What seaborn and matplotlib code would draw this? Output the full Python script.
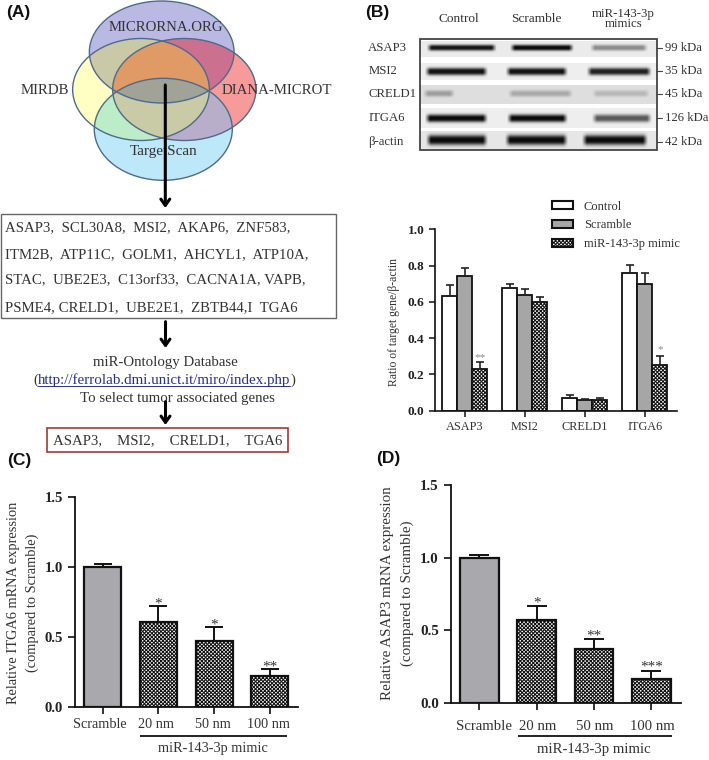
import numpy as np
import pandas as pd
import matplotlib
matplotlib.use("Agg")
import matplotlib.pyplot as plt
import seaborn as sns
from matplotlib.patches import Ellipse, Rectangle, Patch, FancyArrowPatch
from matplotlib.transforms import Affine2D, ScaledTranslation

# ---------- data ----------
GENES = ["ASAP3", "MSI2", "CRELD1", "ITGA6"]
GROUPS = ["Control", "Scramble", "miR-143-3p mimic"]
RATIO_CONTROL = [0.63, 0.675, 0.068, 0.76]
RATIO_SCRAMBLE = [0.745, 0.64, 0.057, 0.70]
RATIO_MIMIC = [0.232, 0.597, 0.057, 0.25]
ERR_CONTROL = [0.064, 0.025, 0.018, 0.045]
ERR_SCRAMBLE = [0.044, 0.03, 0.009, 0.06]
ERR_MIMIC = [0.038, 0.03, 0.015, 0.05]

DOSES = ["Scramble", "20 nm", "50 nm", "100 nm"]
ITGA6_EXPR = [1.0, 0.612, 0.474, 0.221]
ITGA6_ERR = [0.026, 0.109, 0.10, 0.053]
ITGA6_STARS = ["", "*", "*", "**"]
ASAP3_EXPR = [1.0, 0.571, 0.369, 0.165]
ASAP3_ERR = [0.02, 0.096, 0.071, 0.055]
ASAP3_STARS = ["", "*", "**", "***"]

BLOT_ROWS = ["ASAP3", "MSI2", "CRELD1", "ITGA6", "β-actin"]
BLOT_KDA = ["99 kDa", "35 kDa", "45 kDa", "126 kDa", "42 kDa"]
BLOT_LANES = ["Control", "Scramble", "miR-143-3p\nmimics"]
BLOT_ASAP3 = [0.95, 1.0, 0.42]
BLOT_MSI2 = [0.97, 0.97, 0.9]
BLOT_CRELD1 = [0.3, 0.25, 0.18]
BLOT_ITGA6 = [1.0, 1.0, 0.65]
BLOT_ACTIN = [1.0, 1.0, 1.0]

GENE_LINES = ["ASAP3,  SCL30A8,  MSI2,  AKAP6,  ZNF583,",
              "ITM2B,  ATP11C,  GOLM1,  AHCYL1,  ATP10A,",
              "STAC,  UBE2E3,  C13orf33,  CACNA1A, VAPB,",
              "PSME4, CRELD1,  UBE2E1,  ZBTB44,I  TGA6"]
SELECTED = "ASAP3,    MSI2,    CRELD1,    TGA6"
DATABASES = ["MICRORNA.ORG", "MIRDB", "DIANA-MICROT", "TargetScan"]

# ---------- style ----------
W, H = 709, 760
CHECK = "x" * 9
sns.set_theme(style="ticks")
plt.rcParams.update({"font.family": ["Liberation Serif", "DejaVu Serif"],
                     "hatch.linewidth": 0.75, "axes.edgecolor": "#111111",
                     "xtick.color": "#222222", "ytick.color": "#222222"})
TXT = "#333333"
fig = plt.figure(figsize=(W / 100, H / 100), dpi=100)
px = Affine2D().scale(1 / W, -1 / H).translate(0, 1) + fig.transFigure

ov = fig.add_axes([0, 0, 1, 1], zorder=0)
ov.set_axis_off()


def t(x, y, s, size=10, color=TXT, ha="center", **kw):
    ov.text(x, y, s, fontsize=size, color=color, ha=ha, va="center", **kw)


def arrow(x, y0, y1, lw=2.2):
    ov.add_patch(FancyArrowPatch((x, y0), (x, y1), arrowstyle="->,head_length=4.5,head_width=3.2",
                                 mutation_scale=1, lw=lw, color="black", shrinkA=0, shrinkB=0, zorder=6))


def panel_axes(x0, x1, ytop, ybot):
    ax = fig.add_axes([x0 / W, 1 - ybot / H, (x1 - x0) / W, (ybot - ytop) / H], zorder=2)
    ax.patch.set_alpha(0)
    return ax


# ---------- panel A: venn ----------
ell = {"T": (161.7, 52, 144.7, 102), "L": (141, 89.5, 136.7, 102),
       "R": (184.3, 89.5, 143.3, 102), "B": (163.3, 129.3, 138, 102)}
region_col = {"": "#ffffff", "T": "#b9b9e4", "L": "#ffffc4", "R": "#f89a9a", "B": "#bce8fb",
              "TL": "#c9c9a8", "TR": "#cd7091", "LR": "#df9a66", "LB": "#bcecc8", "RB": "#b9aec9",
              "TB": "#a0a396", "TLR": "#df9a66", "LRB": "#c9caa6", "TLB": "#a0a396",
              "TRB": "#a0a396", "TLRB": "#a0a396"}
SS = 3
gx = (np.arange(60 * SS, 270 * SS) + 0.5) / SS
gy = (np.arange(0, 185 * SS) + 0.5) / SS
X, Y = np.meshgrid(gx, gy)
inside = {k: ((X - v[0]) / (v[2] / 2)) ** 2 + ((Y - v[1]) / (v[3] / 2)) ** 2 <= 1 for k, v in ell.items()}
img = np.ones(X.shape + (3,))
for key, col in region_col.items():
    mask = np.ones(X.shape, bool)
    for k in "TLRB":
        mask &= inside[k] if k in key else ~inside[k]
    img[mask] = matplotlib.colors.to_rgb(col)
img = img.reshape(185, SS, 210, SS, 3).mean(axis=(1, 3))
ov.imshow(img, extent=(60, 270, 185, 0), aspect="auto", interpolation="bilinear", zorder=1)
for k, v in ell.items():
    ov.add_patch(Ellipse(v[:2], v[2], v[3], fill=False, ec="#4f6a8c", lw=1.0, zorder=2))
t(165.7, 27.7, DATABASES[0], 10.6, zorder=5)
t(44.5, 90, DATABASES[1], 10.7, zorder=5)
t(277, 90, DATABASES[2], 10.7, zorder=5)
t(163.7, 151, DATABASES[3], 10.9, zorder=5)
arrow(165.3, 85, 208)

ov.add_patch(Rectangle((0.7, 214.3), 335, 103.4, fill=False, ec="#666666", lw=1.0))
for y, line in zip([227.7, 254.3, 281, 307.7], GENE_LINES):
    t(4.7, y, line, 10.75, ha="left")
arrow(165.5, 321.7, 348)
t(165, 362.3, "miR-Ontology Database", 10.7)
t(38, 380.3, "(", 10.7, ha="right")
t(38.3, 380.3, "http://ferrolab.dmi.unict.it/miro/index.php", 10.8, color="#2b2f8c", ha="left")
t(290.5, 380.3, ")", 10.7, ha="left")
ov.plot([38.3, 290], [386, 386], color="#2b2f8c", lw=0.7)
t(177.5, 398.7, "To select tumor associated genes", 10.7)
arrow(165.5, 401.7, 425)
ov.add_patch(Rectangle((47.3, 428.3), 241, 24, fill=False, ec="#a03a3a", lw=1.2))
t(167.5, 440.7, SELECTED, 10.7)

# ---------- panel B: blot ----------
bx0, bx1, by0, by1 = 420, 657, 39, 150
xx, yy = np.meshgrid(np.arange(bx0, bx1) + 0.5, np.arange(by0, by1) + 0.5)
blot = np.full(xx.shape, 1.0)
row_bg = [(41, 57, 0.92), (63, 80, 0.93), (85, 104, 0.87), (108, 128, 0.93), (131, 149, 0.9)]
row_y = [47.7, 71.5, 93.5, 118.3, 140]
row_sig = [3.0, 3.7, 3.2, 3.9, 5.0]
lane_x = [[(426.7, 496.7), (510, 574), (590, 648)],
          [(425, 488), (505.7, 568), (586.7, 651.7)],
          [(423, 455), (508, 573), (592, 650)],
          [(425, 488), (507, 568), (592, 652)],
          [(426, 488), (505, 568), (582, 648)]]
row_vals = [BLOT_ASAP3, BLOT_MSI2, BLOT_CRELD1, BLOT_ITGA6, BLOT_ACTIN]
for (y0, y1, bg), yc, sig, lanes, vals in zip(row_bg, row_y, row_sig, lane_x, row_vals):
    mask = (yy >= y0) & (yy <= y1)
    dark = np.zeros(xx.shape)
    for (a, b), v in zip(lanes, vals):
        prof = np.clip((xx - a) / 5, 0, 1) * np.clip((b - xx) / 5, 0, 1)
        dark = np.maximum(dark, v * prof * np.exp(-(np.abs(yy - yc) / sig) ** 2.6))
    blot[mask] = (bg - (bg - 0.04) * dark)[mask]
ov.imshow(blot, extent=(bx0, bx1, by1, by0), cmap="gray", vmin=0, vmax=1, aspect="auto",
          interpolation="bicubic", zorder=1)
ov.add_patch(Rectangle((bx0, 39.3), bx1 - bx0, 110.7, fill=False, ec="#444444", lw=1.3, zorder=2))
for name, kda, y in zip(BLOT_ROWS, BLOT_KDA, [47.7, 71, 94, 118.3, 141.7]):
    t(368.3, y, name, 9.2, ha="left")
    t(665, y, kda, 9.2, ha="left")
    ov.plot([657, 662], [y, y], color="#444444", lw=0.8, zorder=2)
t(459.3, 19.3, BLOT_LANES[0], 9.6)
t(536.7, 19.3, BLOT_LANES[1], 9.6)
t(623.3, 19, BLOT_LANES[2], 9.3, linespacing=0.85)

ov.set_xlim(0, W)
ov.set_ylim(H, 0)

for lab, x, y in [("(A)", 6, 12), ("(B)", 365, 12), ("(C)", 7, 460), ("(D)", 376, 459)]:
    ov.text(x, y, lab, fontsize=12.5, fontweight="bold", family="Liberation Sans", color="#111111",
            ha="left", va="center")


def style_axes(ax, ysize, xsize, tick_len, lw, yticks, fmt="{:.1f}"):
    sns.despine(ax=ax)
    for s in ("left", "bottom"):
        ax.spines[s].set_linewidth(lw)
    ax.set_yticks(yticks)
    ax.set_yticklabels([fmt.format(v) for v in yticks], fontweight="bold", fontsize=ysize, color="#222222")
    ax.tick_params(axis="both", length=tick_len, width=lw)
    ax.tick_params(axis="x", labelsize=xsize, labelcolor=TXT)
    ax.set_xlabel("")


# ---------- panel B: grouped bars ----------
axb = panel_axes(435, 676.7, 229.3, 410.7)
dfb = pd.DataFrame({"gene": GENES * 3,
                    "group": np.repeat(GROUPS, 4),
                    "ratio": RATIO_CONTROL + RATIO_SCRAMBLE + RATIO_MIMIC})
sns.barplot(data=dfb, x="gene", y="ratio", hue="group", ax=axb, width=0.75, gap=0, errorbar=None,
            palette=["white", "#a6a6a6", "white"], edgecolor="#111111", linewidth=1.3,
            legend=False, saturation=1)
for cont, vals, errs in zip(axb.containers, [RATIO_CONTROL, RATIO_SCRAMBLE, RATIO_MIMIC],
                            [ERR_CONTROL, ERR_SCRAMBLE, ERR_MIMIC]):
    xs = [p.get_x() + p.get_width() / 2 for p in cont]
    axb.errorbar(xs, vals, yerr=[np.zeros(4), errs], fmt="none", ecolor="#222222", elinewidth=1.2,
                 capsize=2.9, capthick=1.2, zorder=1)
for p in axb.containers[2]:
    p.set_hatch(CHECK)
axb.set_xlim(-0.5, 3.53)
axb.set_ylim(0, 1)
style_axes(axb, 9.6, 8.8, 4, 1.2, [0, 0.2, 0.4, 0.6, 0.8, 1.0])
axb.set_ylabel("Ratio of target gene/β-actin", fontsize=8.4, color=TXT, va="center")
axb.yaxis.set_label_coords(394, 321.7, transform=px)
xs2 = [p.get_x() + p.get_width() / 2 for p in axb.containers[2]]
axb.text(xs2[0], 0.295, "**", ha="center", va="center", fontsize=8, color="#888888")
axb.text(xs2[3], 0.335, "*", ha="center", va="center", fontsize=8, color="#888888")
leg_handles = [Patch(fc="white", ec="#111111", lw=1.5), Patch(fc="#a6a6a6", ec="#111111", lw=1.5),
               Patch(fc="white", ec="#111111", lw=1.5, hatch=CHECK)]
axb.legend(leg_handles, GROUPS, loc="upper left", bbox_to_anchor=(552, 200.5), bbox_transform=px,
           frameon=False, fontsize=9.0, handlelength=1.7, handleheight=0.62, handletextpad=0.85,
           labelspacing=0.55, borderpad=0, borderaxespad=0, labelcolor=TXT)


# ---------- panels C, D ----------
def dose_panel(box, vals, errs, stars, ylabel, label_xy, capsize, star_y, dx, xsize, ysize, width,
               xlim, bracket, mimic_xy, ylab_size, tick_pad):
    ax = panel_axes(*box)
    df = pd.DataFrame({"dose": DOSES, "expr": vals})
    sns.barplot(data=df, x="dose", y="expr", hue="dose", ax=ax, width=width, errorbar=None,
                palette=["#a9a9ad", "white", "white", "white"], edgecolor="#111111", linewidth=1.6,
                legend=False, saturation=1)
    bars = [c[0] for c in ax.containers]
    xs = [p.get_x() + p.get_width() / 2 for p in bars]
    ax.errorbar(xs, vals, yerr=[np.zeros(4), errs], fmt="none", ecolor="#111111", elinewidth=1.4,
                capsize=capsize, capthick=1.4, zorder=1)
    for p in bars[1:]:
        p.set_hatch(CHECK)
    ax.set_xlim(*xlim)
    ax.set_ylim(0, 1.5)
    style_axes(ax, ysize, xsize, 5, 1.3, [0, 0.5, 1.0, 1.5])
    ax.tick_params(axis="x", pad=tick_pad)
    ax.set_ylabel(ylabel, fontsize=ylab_size, color=TXT, va="center", linespacing=1.55)
    ax.yaxis.set_label_coords(*label_xy, transform=px)
    for x, s, y in zip(xs, stars, star_y):
        ax.text(x, y, s, ha="center", va="center", fontsize=11, color="#333333")
    for lab, d in zip(ax.get_xticklabels(), dx):
        lab.set_transform(lab.get_transform() + ScaledTranslation(d / 100, 0, fig.dpi_scale_trans))
    ov.plot(bracket[:2], [bracket[2]] * 2, color="#111111", lw=1.3, solid_capstyle="butt")
    t(*mimic_xy, "miR-143-3p mimic", xsize)
    return ax


dose_panel((75, 297.7, 497.3, 707.3), ITGA6_EXPR, ITGA6_ERR, ITGA6_STARS,
           "Relative ITGA6 mRNA expression\n(compared to Scramble)", (22.7, 602.7), 6.8,
           [0, 0.74, 0.59, 0.29], [-2.5, -2, -1.3, -1], 10.3, 10.6, 0.66, (-0.497, 3.5),
           (140, 287.3, 735.7), (213, 748.3), 10.4, 2.5)
dose_panel((450.7, 680.7, 485, 703), ASAP3_EXPR, ASAP3_ERR, ASAP3_STARS,
           "Relative ASAP3 mRNA expression\n(compared to Scramble)", (397.5, 593), 7.2,
           [0, 0.69, 0.46, 0.25], [4.5, 1, 1, 1.3], 10.6, 10.8, 0.675, (-0.5, 3.515),
           (518.3, 672.3, 736.3), (594, 750), 10.8, 7)

fig.savefig("out.png", dpi=100)
